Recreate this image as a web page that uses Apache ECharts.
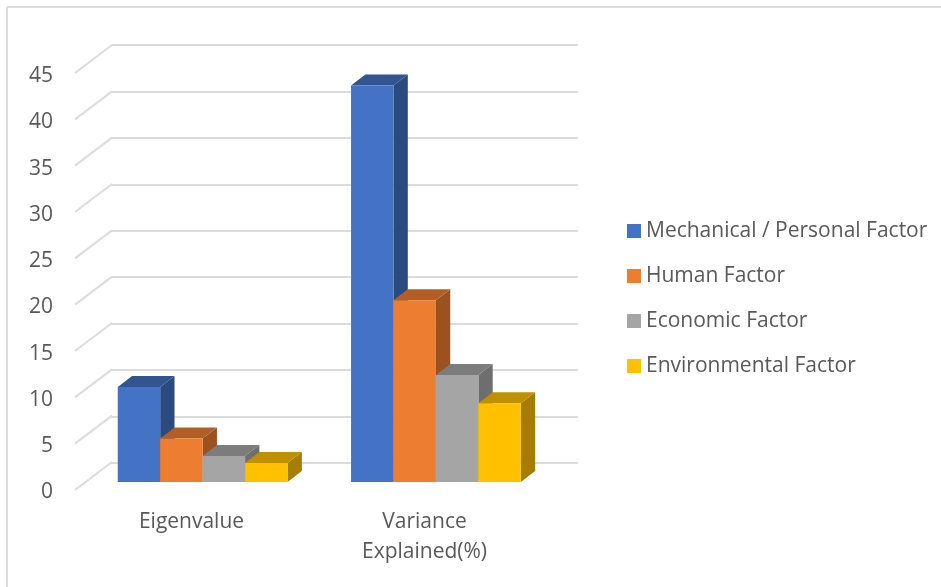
<!DOCTYPE html>
<html><head><meta charset="utf-8">
<style>html,body{margin:0;padding:0;background:#fff}#c{width:941px;height:587px}</style>
<script src="https://cdn.jsdelivr.net/npm/echarts@6/dist/echarts.min.js"></script>
</head><body><div id="c"></div>
<script>
const categories = ['Eigenvalue', 'Variance\nExplained(%)'];
const seriesNames = ['Mechanical / Personal Factor', 'Human Factor', 'Economic Factor', 'Environmental Factor'];
const mechanical = [10.25, 42.8];
const human = [4.7, 19.6];
const economic = [2.8, 11.55];
const environmental = [2.05, 8.5];
const yTicks = [0, 5, 10, 15, 20, 25, 30, 35, 40, 45];

const frontColors = ['#4472C4', '#ED7D31', '#A5A5A5', '#FFC000'];
const topColors = ['#325591', '#B25E25', '#7C7C7C', '#BF9000'];
const sideColors = ['#2A4A80', '#9B5220', '#6E6E6E', '#A67D00'];
const values = [mechanical, human, economic, environmental];

const BAR_SHARE = 42.45 / 233.3, DX = 14.3, DY = -11, WALL_DX = 37, WALL_DY = -28;
const FONT = '"Open Sans"', TEXT = '#595959', GRID = '#DCDCDC';

function barItem(i) {
  return function (params, api) {
    const cat = api.value(0), v = api.value(1);
    const base = api.coord([cat, 0]), head = api.coord([cat, v]);
    const w = api.size([1, 0])[0] * BAR_SHARE;
    const x0 = base[0] - 2 * w + i * w, x1 = x0 + w, y0 = base[1], y1 = head[1];
    const poly = (points, fill) => ({ type: 'polygon', shape: { points }, style: { fill } });
    return { type: 'group', children: [
      poly([[x1, y0], [x1 + DX, y0 + DY], [x1 + DX, y1 + DY], [x1, y1]], sideColors[i]),
      poly([[x0, y1], [x1, y1], [x1 + DX, y1 + DY], [x0 + DX, y1 + DY]], topColors[i]),
      poly([[x0, y0], [x1, y0], [x1, y1], [x0, y1]], api.visual('color'))
    ] };
  };
}
function wallItem(params, api) {
  const p = api.coord([0, api.value(0)]);
  const x = p[0] - api.size([1, 0])[0] / 2;
  return { type: 'line', shape: { x1: x, y1: p[1], x2: x + WALL_DX, y2: p[1] + WALL_DY },
    style: { stroke: GRID, lineWidth: 2 } };
}

const option = {
  animation: false,
  backgroundColor: '#fff',
  textStyle: { fontFamily: FONT },
  graphic: [
    { type: 'line', silent: true, shape: { x1: 7, y1: 7, x2: 941, y2: 7 }, style: { stroke: GRID, lineWidth: 2 } },
    { type: 'line', silent: true, shape: { x1: 7, y1: 7, x2: 7, y2: 587 }, style: { stroke: GRID, lineWidth: 2 } }
  ],
  legend: {
    orient: 'vertical', left: 627, top: 217, padding: 0, icon: 'rect', itemWidth: 14, itemHeight: 14, itemGap: 17,
    data: seriesNames, selectedMode: false,
    textStyle: { fontFamily: FONT, fontSize: 21, color: TEXT, lineHeight: 26, padding: [0, 0, 2, 0] }
  },
  grid: [
    { left: 111, top: 45, width: 467, height: 418 },
    { left: 75, top: 73, width: 466, height: 417 },
    { left: 86, top: 65, width: 466.6, height: 417 },
    { left: 75, top: 76, width: 466, height: 416.5 }
  ],
  xAxis: [0, 1, 2, 3].map(g => ({
    gridIndex: g, type: 'category', data: categories, show: g === 1,
    axisLine: { show: false }, axisTick: { show: false },
    axisLabel: { fontFamily: FONT, fontSize: 21, color: TEXT, lineHeight: 30, margin: 17, interval: 0 }
  })),
  yAxis: [0, 1, 2, 3].map(g => ({
    gridIndex: g, type: 'value', min: 0, max: 45, interval: 5, show: g === 0 || g === 3,
    axisLine: { show: false }, axisTick: { show: false },
    splitLine: { show: g === 0, lineStyle: { color: GRID, width: 2 } },
    axisLabel: { show: g === 3, fontFamily: FONT, fontSize: 21, color: TEXT, margin: 22 }
  })),
  series: [
    { type: 'custom', xAxisIndex: 1, yAxisIndex: 1, silent: true, clip: false, z: 1,
      renderItem: wallItem, encode: { y: 0 }, data: yTicks.map(t => [t]) }
  ].concat(seriesNames.map((name, i) => ({
    type: 'custom', name, xAxisIndex: 2, yAxisIndex: 2, clip: false, z: 3 + i,
    itemStyle: { color: frontColors[i] }, renderItem: barItem(i),
    encode: { x: 0, y: 1 },
    data: categories.map((c, k) => [k, values[i][k]])
  })))
};
const chart = echarts.init(document.getElementById('c'), null, { renderer: 'canvas' });
chart.setOption(option);
</script></body></html>
